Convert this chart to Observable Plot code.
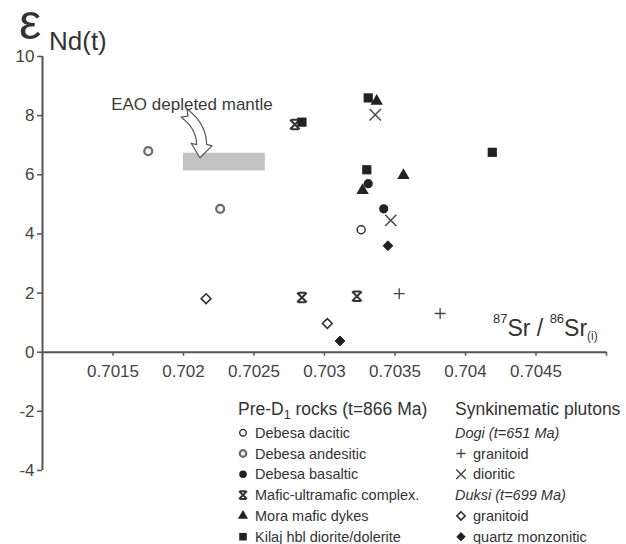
<!DOCTYPE html>
<html><head><meta charset="utf-8">
<script src="https://cdn.jsdelivr.net/npm/d3@7"></script>
<script src="https://cdn.jsdelivr.net/npm/@observablehq/plot@0.6"></script>
<style>
html,body{margin:0;padding:0;background:#fff;}
#chart svg{display:block;overflow:visible;}
</style></head><body><div id="chart"></div>
<script>
// ---- data ----
const seriesNames = ["Debesa dacitic","Debesa andesitic","Debesa basaltic","Mafic-ultramafic complex.","Mora mafic dykes","Kilaj hbl diorite/dolerite","Dogi granitoid","Dogi dioritic","Duksi granitoid","Duksi quartz monzonitic"];
const pointSeries = [
  "Debesa dacitic",
  "Debesa andesitic","Debesa andesitic",
  "Debesa basaltic","Debesa basaltic",
  "Mafic-ultramafic complex.","Mafic-ultramafic complex.","Mafic-ultramafic complex.",
  "Mora mafic dykes","Mora mafic dykes","Mora mafic dykes",
  "Kilaj hbl diorite/dolerite","Kilaj hbl diorite/dolerite","Kilaj hbl diorite/dolerite","Kilaj hbl diorite/dolerite",
  "Dogi granitoid","Dogi granitoid",
  "Dogi dioritic","Dogi dioritic",
  "Duksi granitoid","Duksi granitoid",
  "Duksi quartz monzonitic","Duksi quartz monzonitic"];
const srInitial = [
  0.70326,
  0.70175, 0.70226,
  0.70331, 0.70342,
  0.70279, 0.70284, 0.70323,
  0.70337, 0.70356, 0.70327,
  0.70331, 0.70284, 0.70419, 0.70330,
  0.70353, 0.70382,
  0.70336, 0.70347,
  0.70216, 0.70302,
  0.70345, 0.70311];
const epsNd = [
  4.14,
  6.80, 4.85,
  5.70, 4.85,
  7.70, 1.85, 1.89,
  8.49, 5.98, 5.47,
  8.60, 7.78, 6.76, 6.17,
  1.98, 1.31,
  8.03, 4.46,
  1.81, 0.97,
  3.60, 0.38];
const yTicks = [-4, -2, 0, 2, 4, 6, 8, 10];
const yTickLabels = ["-4", "-2", "0", "2", "4", "6", "8", "10"];
const xTicks = [0.7015, 0.702, 0.7025, 0.703, 0.7035, 0.704, 0.7045, 0.705];
const xTickLabels = ["0.7015", "0.702", "0.7025", "0.703", "0.7035", "0.704", "0.7045", ""];
const mantleSr = [0.702, 0.70258];
const mantleNd = [6.13, 6.73];
const noteText = ["EAO depleted mantle"];
const noteSr = [0.70206];
const noteNd = [8.36];
const arrowSr = [0.702007, 0.702120];
const arrowNd = [8.07, 6.56];
const legendCol1Title = "Pre-D";
const legendCol2Title = "Synkinematic plutons";
const legendCol2 = [
  {italic: "Dogi (t=651 Ma)"},
  {series: "Dogi granitoid", label: "granitoid"},
  {series: "Dogi dioritic", label: "dioritic"},
  {italic: "Duksi (t=699 Ma)"},
  {series: "Duksi granitoid", label: "granitoid"},
  {series: "Duksi quartz monzonitic", label: "quartz monzonitic"}];

// ---- styles ----
const bowtie = {draw(ctx, size) {
  const r = Math.sqrt(size / Math.PI);
  ctx.moveTo(-r, -r); ctx.lineTo(r, r);
  ctx.moveTo(r, -r); ctx.lineTo(-r, r);
  ctx.moveTo(-r * 0.75, -r); ctx.lineTo(r * 0.75, -r);
  ctx.moveTo(-r * 0.75, r); ctx.lineTo(r * 0.75, r);
}};
const styles = {
  "Debesa dacitic": {symbol: "circle", fill: "white", stroke: "#2a2a2a", strokeWidth: 1.4, r: 4},
  "Debesa andesitic": {symbol: "circle", fill: "#f2f2f2", stroke: "#6a6a6a", strokeWidth: 2.2, r: 4},
  "Debesa basaltic": {symbol: "circle", fill: "#222", stroke: "none", strokeWidth: 0, r: 4.6},
  "Mafic-ultramafic complex.": {symbol: bowtie, fill: "none", stroke: "#333", strokeWidth: 2, r: 4.8},
  "Mora mafic dykes": {symbol: "triangle", fill: "#222", stroke: "none", strokeWidth: 0, r: 4.6},
  "Kilaj hbl diorite/dolerite": {symbol: "square", fill: "#222", stroke: "none", strokeWidth: 0, r: 5.2},
  "Dogi granitoid": {symbol: "plus", fill: "none", stroke: "#444", strokeWidth: 1.3, r: 3.6},
  "Dogi dioritic": {symbol: "times", fill: "none", stroke: "#444", strokeWidth: 1.4, r: 5.2},
  "Duksi granitoid": {symbol: "diamond2", fill: "white", stroke: "#333", strokeWidth: 1.6, r: 4.4},
  "Duksi quartz monzonitic": {symbol: "diamond2", fill: "#222", stroke: "#222", strokeWidth: 1, r: 4.4}
};
const FONT = "'Liberation Sans', Arial, Helvetica, sans-serif";
const AXIS = "#555", LABEL = "#444";

const rows = srInitial.map((x, i) => ({x, y: epsNd[i], s: pointSeries[i]}));

const dotMarks = seriesNames.map(name => {
  const st = styles[name];
  return Plot.dot(rows.filter(d => d.s === name), {
    x: "x", y: "y", symbol: st.symbol, r: st.r,
    fill: st.fill, stroke: st.stroke, strokeWidth: st.strokeWidth
  });
});

const plot = Plot.plot({
  width: 626, height: 544,
  marginLeft: 42, marginRight: 20, marginTop: 56, marginBottom: 74,
  style: {fontFamily: FONT, fontSize: "16px", color: "#4a4a4a", background: "white", overflow: "visible"},
  x: {domain: [0.701, 0.705], axis: null},
  y: {domain: [-4, 10], axis: null},
  marks: [
    Plot.rect([{x1: mantleSr[0], x2: mantleSr[1], y1: mantleNd[0], y2: mantleNd[1]}],
      {x1: "x1", x2: "x2", y1: "y1", y2: "y2", fill: "#c2c2c2"}),
    // y axis
    Plot.ruleX([0.701], {y1: -4, y2: 10, stroke: AXIS, strokeWidth: 2}),
    Plot.ruleY(yTicks, {y: d => d, x1: 0.701, x2: 0.701, insetLeft: -5, stroke: AXIS, strokeWidth: 1.5}),
    Plot.text(yTicks, {y: d => d, x: 0.701, dx: -8, textAnchor: "end", text: (d, i) => yTickLabels[i], fontSize: 17, fill: LABEL}),
    // x axis at y = 0
    Plot.ruleY([0], {x1: 0.701, x2: 0.705, stroke: AXIS, strokeWidth: 2}),
    Plot.ruleX(xTicks, {x: d => d, y1: 0, y2: 0, insetTop: 4, stroke: AXIS, strokeWidth: 1.5}),
    Plot.text(xTicks, {x: d => d, y: 0, dy: 19, text: (d, i) => xTickLabels[i], fontSize: 17, fill: LABEL}),
    Plot.text(noteText, {x: noteSr, y: noteNd, text: d => d, fontSize: 17, fill: "#3a3a3a"}),
    ...dotMarks
  ]
});
document.getElementById("chart").appendChild(plot);

// ---- hollow annotation arrow (positioned through the plot's scales) ----
const sx = plot.scale("x"), sy = plot.scale("y");
const svg = d3.select(plot);
(function drawArrow() {
  const T = [sx.apply(arrowSr[0]), sy.apply(arrowNd[0])];
  const P = [sx.apply(arrowSr[1]), sy.apply(arrowNd[1])];
  const mid = [(T[0] + P[0]) / 2, (T[1] + P[1]) / 2];
  const v = [P[0] - T[0], P[1] - T[1]];
  const len = Math.hypot(v[0], v[1]);
  const perp = [v[1] / len, -v[0] / len];
  const k = 16;
  const C = [mid[0] + perp[0] * k, mid[1] + perp[1] * k];
  const N = 60;
  const pts = d3.range(N + 1).map(j => {
    const t = j / N, a = (1 - t) * (1 - t), b = 2 * (1 - t) * t, c = t * t;
    return [a * T[0] + b * C[0] + c * P[0], a * T[1] + b * C[1] + c * P[1]];
  });
  const headLen = 13, headW = 10.5, shaftW = 5;
  let hi = N;
  while (hi > 0 && Math.hypot(P[0] - pts[hi][0], P[1] - pts[hi][1]) < headLen) hi--;
  const shaft = pts.slice(0, hi + 1);
  const normals = shaft.map((p, j) => {
    const a = shaft[Math.max(0, j - 1)], b = shaft[Math.min(shaft.length - 1, j + 1)];
    const dx = b[0] - a[0], dy = b[1] - a[1], l = Math.hypot(dx, dy);
    return [-dy / l, dx / l];
  });
  const left = shaft.map((p, j) => [p[0] + normals[j][0] * shaftW, p[1] + normals[j][1] * shaftW]);
  const right = shaft.map((p, j) => [p[0] - normals[j][0] * shaftW, p[1] - normals[j][1] * shaftW]);
  const H = shaft[shaft.length - 1];
  const hd = [P[0] - H[0], P[1] - H[1]], hl = Math.hypot(hd[0], hd[1]);
  const nH = [-hd[1] / hl, hd[0] / hl];
  const t0 = [shaft[1][0] - shaft[0][0], shaft[1][1] - shaft[0][1]];
  const tl = Math.hypot(t0[0], t0[1]);
  const notch = [T[0] + t0[0] / tl * 5, T[1] + t0[1] / tl * 5];
  const poly = [
    notch,
    ...left,
    [H[0] + nH[0] * headW, H[1] + nH[1] * headW],
    P,
    [H[0] - nH[0] * headW, H[1] - nH[1] * headW],
    ...right.slice().reverse()
  ];
  svg.append("path")
    .attr("d", "M" + poly.map(p => p[0].toFixed(2) + "," + p[1].toFixed(2)).join("L") + "Z")
    .attr("fill", "white").attr("stroke", "#555").attr("stroke-width", 1.2)
    .attr("stroke-linejoin", "round");
})();

// ---- axis titles ----
const tcol = "#333";
const titles = svg.append("g").attr("text-anchor", "start").attr("font-family", FONT).attr("fill", tcol);
titles.append("text").attr("x", 19).attr("y", 39).attr("font-size", 50).text("ε");
titles.append("text").attr("x", 49).attr("y", 50).attr("font-size", 26).text("Nd(t)");
const xl = titles.append("text").attr("x", 493).attr("y", 336).attr("font-size", 23);
xl.append("tspan").attr("font-size", 13).attr("dy", -13).text("87");
xl.append("tspan").attr("dy", 13).text("Sr / ");
xl.append("tspan").attr("font-size", 13).attr("dy", -13).text("86");
xl.append("tspan").attr("dy", 13).text("Sr");
xl.append("tspan").attr("font-size", 12).attr("dy", 4).text("(i)");

// ---- legend ----
const symMap = {circle: d3.symbolCircle, triangle: d3.symbolTriangle, square: d3.symbolSquare,
  plus: d3.symbolPlus, times: d3.symbolTimes, diamond2: d3.symbolDiamond2};
function legendSymbol(g, name, cx, cy, scale) {
  const st = styles[name];
  const type = typeof st.symbol === "string" ? symMap[st.symbol] : st.symbol;
  const rr = st.r * scale;
  g.append("path").attr("d", d3.symbol(type, Math.PI * rr * rr)())
    .attr("transform", `translate(${cx},${cy})`)
    .attr("fill", st.fill).attr("stroke", st.stroke).attr("stroke-width", st.strokeWidth);
}
const lg = svg.append("g").attr("font-family", FONT).attr("fill", "#333").attr("text-anchor", "start");
const rowY0 = 432.7, rowStep = 20.8;
const h1 = lg.append("text").attr("x", 238).attr("y", 415).attr("font-size", 17.5);
h1.append("tspan").text(legendCol1Title);
h1.append("tspan").attr("font-size", 12.5).attr("dy", 4).text("1");
h1.append("tspan").attr("dy", -4).text(" rocks (t=866 Ma)");
seriesNames.slice(0, 6).forEach((name, i) => {
  const cy = rowY0 + i * rowStep;
  legendSymbol(lg, name, 243, cy, 0.82);
  lg.append("text").attr("x", 255).attr("y", cy + 5).attr("font-size", 14.5).text(name);
});
lg.append("text").attr("x", 455).attr("y", 415).attr("font-size", 17.5).text(legendCol2Title);
legendCol2.forEach((item, i) => {
  const cy = rowY0 + i * rowStep;
  if (item.italic) {
    lg.append("text").attr("x", 455).attr("y", cy + 5).attr("font-size", 14.5)
      .attr("font-style", "italic").text(item.italic);
  } else {
    legendSymbol(lg, item.series, 461, cy, 0.85);
    lg.append("text").attr("x", 473).attr("y", cy + 5).attr("font-size", 14.5).text(item.label);
  }
});
</script></body></html>
